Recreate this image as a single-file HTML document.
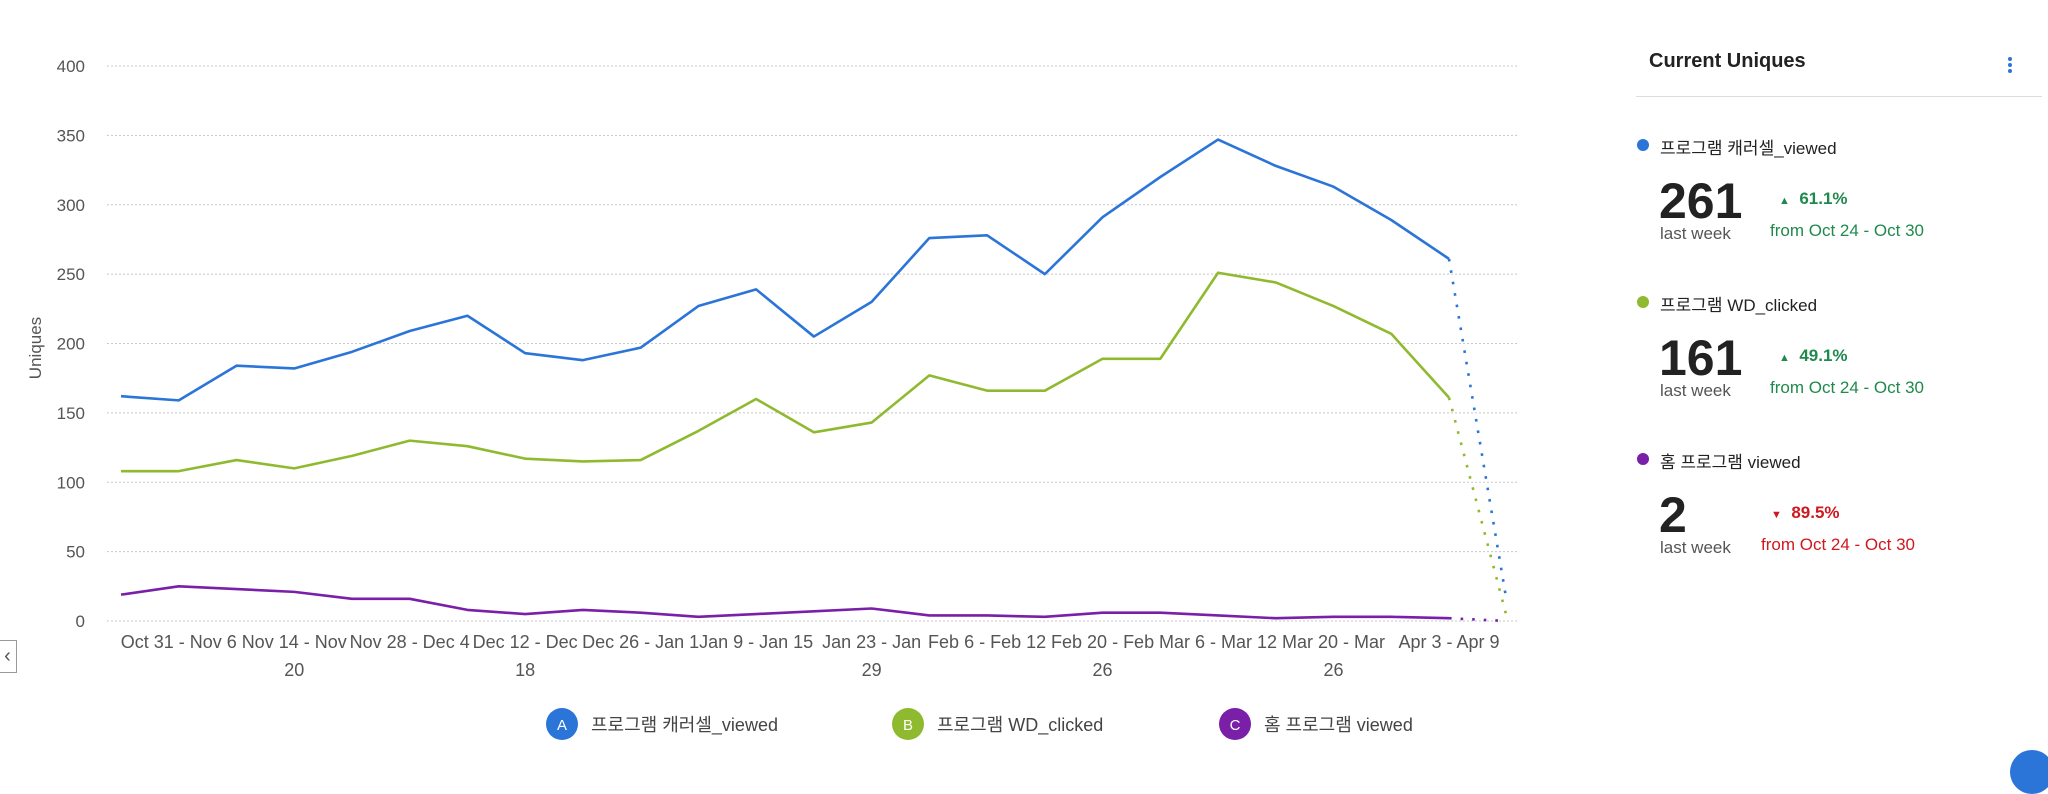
<!DOCTYPE html>
<html><head><meta charset="utf-8">
<style>
html,body{margin:0;padding:0;background:#fff;width:2048px;height:756px;overflow:hidden;font-family:"Liberation Sans","Noto Sans CJK KR",sans-serif;}
.abs{position:absolute;}
</style></head>
<body>
<div class="abs" style="left:-2px;top:640px;width:17px;height:31px;border:1px solid #999;color:#555;font-size:20px;line-height:30px;text-align:center;">&lsaquo;</div>
<svg id="chart" class="abs" style="left:0;top:0" width="1540" height="756"></svg>

<div class="abs" style="left:1636px;top:0;width:412px;height:756px;">
  <div class="abs" style="left:13px;top:50px;font-size:20px;font-weight:bold;color:#222;">Current Uniques</div>
  <div class="abs" style="left:372px;top:57px;width:4px;">
    <div style="width:4px;height:4px;border-radius:2px;background:#2b74d8;margin-bottom:2px"></div>
    <div style="width:4px;height:4px;border-radius:2px;background:#2b74d8;margin-bottom:2px"></div>
    <div style="width:4px;height:4px;border-radius:2px;background:#2b74d8"></div>
  </div>
  <div class="abs" style="left:0;top:96px;width:406px;height:1px;background:#ddd;"></div>
  <div id="entries"></div>
</div>

<div class="abs" style="left:2010px;top:750px;width:44px;height:44px;border-radius:22px;background:#2b74d8;"></div>

<script>
const categories=["Oct 24 - Oct 30","Oct 31 - Nov 6","Nov 7 - Nov 13","Nov 14 - Nov 20","Nov 21 - Nov 27","Nov 28 - Dec 4","Dec 5 - Dec 11","Dec 12 - Dec 18","Dec 19 - Dec 25","Dec 26 - Jan 1","Jan 2 - Jan 8","Jan 9 - Jan 15","Jan 16 - Jan 22","Jan 23 - Jan 29","Jan 30 - Feb 5","Feb 6 - Feb 12","Feb 13 - Feb 19","Feb 20 - Feb 26","Feb 27 - Mar 5","Mar 6 - Mar 12","Mar 13 - Mar 19","Mar 20 - Mar 26","Mar 27 - Apr 2","Apr 3 - Apr 9","Apr 10 - Apr 16"];
const tickLabels=[["Oct 31 - Nov 6"],["Nov 14 - Nov","20"],["Nov 28 - Dec 4"],["Dec 12 - Dec","18"],["Dec 26 - Jan 1"],["Jan 9 - Jan 15"],["Jan 23 - Jan","29"],["Feb 6 - Feb 12"],["Feb 20 - Feb","26"],["Mar 6 - Mar 12"],["Mar 20 - Mar","26"],["Apr 3 - Apr 9"]];
const tickIndex=[1,3,5,7,9,11,13,15,17,19,21,23];
const yTicks=[0,50,100,150,200,250,300,350,400];
const seriesA=[162,159,184,182,194,209,220,193,188,197,227,239,205,230,276,278,250,291,320,347,328,313,289,261,14];
const seriesB=[108,108,116,110,119,130,126,117,115,116,137,160,136,143,177,166,166,189,189,251,244,227,207,161,3];
const seriesC=[19,25,23,21,16,16,8,5,8,6,3,5,7,9,4,4,3,6,6,4,2,3,3,2,0];
const seriesNames=["프로그램 캐러셀_viewed","프로그램 WD_clicked","홈 프로그램 viewed"];
const colors=["#2b74d8","#8fba2f","#7a1fa8"];

const NS="http://www.w3.org/2000/svg";
const svg=document.getElementById('chart');
const x=i=>121+i*(1449-121)/23;
const y=v=>621-v*(621-66)/400;
function mk(t,a,p){const e=document.createElementNS(NS,t);for(const k in a)e.setAttribute(k,a[k]);(p||svg).appendChild(e);return e;}

yTicks.forEach(v=>{
  const g=mk('line',{x1:107,x2:1519,y1:y(v),y2:y(v),stroke:'#c8c8c8','stroke-width':1,'stroke-dasharray':'2,2'});
  
  
  const t=mk('text',{x:85,y:y(v)+6,'text-anchor':'end','font-size':17,fill:'#555'});
  t.textContent=v;
  
  
});
const yt=mk('text',{x:41,y:348,'text-anchor':'middle','font-size':17,fill:'#555',transform:'rotate(-90 41 348)'});
yt.textContent='Uniques';



tickIndex.forEach((ix,k)=>{
  const t=mk('text',{x:x(ix),y:648,'text-anchor':'middle','font-size':18,fill:'#555'});
  
  
  tickLabels[k].forEach((ln,j)=>{const s=mk('tspan',{x:x(ix),dy:j?28:0},t);s.textContent=ln;});
});

[seriesA,seriesB,seriesC].forEach((s,si)=>{
  const n=s.length;
  let d='';
  for(let i=0;i<n-1;i++)d+=(i?'L':'M')+x(i)+','+y(s[i]);
  const p=mk('path',{d:d,fill:'none',stroke:colors[si],'stroke-width':2.6,'stroke-linejoin':'round'});
  
  
  const q=mk('path',{d:'M'+x(n-2)+','+y(s[n-2])+'L'+x(n-1)+','+y(s[n-1]),fill:'none',stroke:colors[si],'stroke-width':2.6,'stroke-dasharray':'2.6,9','stroke-linecap':'butt'});
  
  
});

const legX=[562,908,1235];
["A","B","C"].forEach((L,i)=>{
  const g=mk('g',{});
  
  
  mk('circle',{cx:legX[i],cy:724,r:16,fill:colors[i]},g);
  const a=mk('text',{x:legX[i],y:730,'text-anchor':'middle','font-size':15,fill:'#fff'},g);a.textContent=L;
  const t=mk('text',{x:legX[i]+29,y:731,'font-size':18,fill:'#444'},g);t.textContent=seriesNames[i];
});

const cur=[261,161,2];
const pct=["61.1%","49.1%","89.5%"];
const up=[true,true,false];
const ent=document.getElementById('entries');
cur.forEach((v,i)=>{
  const top=130+i*157;
  const c=up[i]?'#1f8a4c':'#d0181f';
  const d=document.createElement('div');
  d.className='abs';
  d.style.cssText='left:0;top:'+top+'px;width:400px;height:150px;';
  
  
  d.innerHTML='<div class="abs" style="left:1px;top:9px;width:12px;height:12px;border-radius:6px;background:'+colors[i]+'"></div>'+
   '<div class="abs" style="left:24px;top:4px;font-size:17px;color:#222">'+seriesNames[i]+'</div>'+
   '<div class="abs" style="left:23px;top:44px;font-size:50px;font-weight:bold;color:#222;line-height:54px">'+v+'</div>'+
   '<div class="abs" style="left:24px;top:94px;font-size:17px;color:#555">last week</div>'+
   '<div class="abs" style="left:'+(up[i]?143:135)+'px;top:59px;font-size:17px;font-weight:bold;color:'+c+'"><span style="font-size:11px">'+(up[i]?'▲':'▼')+'</span>&nbsp; '+pct[i]+'</div>'+
   '<div class="abs" style="left:'+(up[i]?134:125)+'px;top:91px;font-size:17px;color:'+c+'">from Oct 24 - Oct 30</div>';
  ent.appendChild(d);
});
</script>
</body></html>
